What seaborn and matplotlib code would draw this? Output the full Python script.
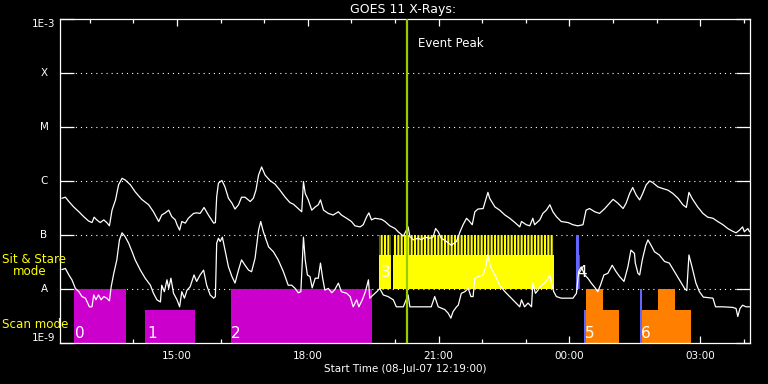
import numpy as np
import pandas as pd
import matplotlib
matplotlib.use("Agg")
import matplotlib.pyplot as plt
import seaborn as sns

# ---------------- data (hours after 00:00 of 08-Jul-07; log10 flux in W/m^2) -------------
upper_time = [12.36,12.44,12.52,12.63,12.75,12.86,12.97,13.05,13.10,13.16,13.24,13.32,13.39,13.45,13.51,13.59,13.66,13.74,13.81,13.93,
              14.04,14.19,14.35,14.46,14.58,14.65,14.73,14.81,14.88,14.96,15.00,15.06,15.11,15.19,15.26,15.38,15.45,15.53,15.62,15.72,
              15.84,15.88,15.91,15.95,16.03,16.10,16.18,16.26,16.33,16.41,16.48,16.56,16.68,16.75,16.81,16.87,16.94,17.02,17.13,17.25,
              17.36,17.48,17.59,17.67,17.78,17.86,17.90,17.94,18.01,18.09,18.17,18.24,18.29,18.36,18.47,18.58,18.70,18.77,18.89,19.00,
              19.08,19.20,19.27,19.35,19.40,19.46,19.54,19.69,19.77,19.88,20.00,20.07,20.19,20.30,20.34,20.42,20.53,20.61,20.68,20.80,
              20.87,20.93,20.99,21.06,21.18,21.29,21.41,21.49,21.56,21.64,21.71,21.77,21.83,21.90,22.02,22.09,22.13,22.17,22.29,22.40,
              22.52,22.63,22.75,22.86,22.90,23.01,23.09,23.16,23.20,23.32,23.39,23.47,23.55,23.62,23.70,23.81,23.97,24.08,24.19,24.31,
              24.38,24.46,24.58,24.69,24.81,24.92,25.00,25.11,25.23,25.30,25.38,25.45,25.53,25.61,25.68,25.76,25.84,25.91,26.03,26.14,
              26.26,26.37,26.49,26.60,26.68,26.74,26.81,26.94,27.06,27.17,27.29,27.40,27.52,27.63,27.74,27.82,27.90,27.97,28.01,28.09,
              28.13]
upper_log = [-6.32,-6.30,-6.38,-6.48,-6.57,-6.66,-6.74,-6.77,-6.67,-6.72,-6.77,-6.72,-6.77,-6.83,-6.54,-6.35,-6.07,-5.95,-5.98,-6.07,
             -6.20,-6.34,-6.44,-6.57,-6.75,-6.63,-6.59,-6.54,-6.66,-6.72,-6.81,-6.91,-6.75,-6.78,-6.69,-6.60,-6.59,-6.60,-6.49,-6.63,
             -6.78,-6.77,-6.29,-6.04,-5.99,-6.11,-6.32,-6.41,-6.52,-6.44,-6.30,-6.30,-6.38,-6.32,-6.17,-5.89,-5.74,-5.89,-5.99,-6.06,
             -6.17,-6.30,-6.40,-6.43,-6.51,-6.57,-6.01,-6.23,-6.35,-6.54,-6.48,-6.44,-6.35,-6.54,-6.60,-6.63,-6.57,-6.63,-6.69,-6.75,
             -6.83,-6.85,-6.81,-6.66,-6.59,-6.72,-6.69,-6.71,-6.75,-6.83,-6.88,-6.94,-7.02,-6.85,-7.03,-7.09,-7.06,-7.09,-7.04,-7.06,
             -7.04,-6.88,-6.94,-7.06,-7.12,-7.19,-7.12,-6.94,-6.81,-6.69,-6.75,-6.81,-6.57,-6.52,-6.51,-6.32,-6.21,-6.32,-6.48,-6.54,
             -6.63,-6.69,-6.77,-6.85,-6.75,-6.81,-6.83,-6.69,-6.81,-6.72,-6.60,-6.54,-6.44,-6.57,-6.66,-6.75,-6.77,-6.81,-6.83,-6.81,
             -6.54,-6.51,-6.57,-6.60,-6.51,-6.41,-6.34,-6.41,-6.51,-6.41,-6.23,-6.12,-6.26,-6.35,-6.23,-6.07,-6.00,-6.03,-6.11,-6.14,
             -6.17,-6.23,-6.32,-6.44,-6.49,-6.21,-6.32,-6.48,-6.60,-6.67,-6.69,-6.75,-6.81,-6.88,-6.93,-6.96,-6.91,-6.85,-6.94,-6.88,
             -6.94]

lower_time = [12.36,12.44,12.52,12.59,12.67,12.75,12.82,12.90,12.99,13.05,13.09,13.14,13.20,13.26,13.32,13.39,13.45,13.49,13.55,13.62,
              13.68,13.74,13.81,13.89,13.97,14.04,14.16,14.27,14.39,14.46,14.54,14.62,14.65,14.71,14.77,14.81,14.86,14.92,15.00,15.06,
              15.11,15.17,15.23,15.30,15.39,15.45,15.53,15.61,15.68,15.76,15.84,15.88,15.91,15.95,15.99,16.04,16.10,16.18,16.26,16.33,
              16.41,16.48,16.56,16.64,16.71,16.79,16.87,16.92,16.98,17.10,17.21,17.32,17.44,17.55,17.63,17.71,17.78,17.84,17.90,17.94,
              17.99,18.05,18.10,18.17,18.24,18.29,18.34,18.39,18.47,18.55,18.62,18.70,18.77,18.89,18.97,19.04,19.12,19.17,19.25,19.32,
              19.39,19.42,19.50,19.58,19.65,19.73,19.84,19.96,20.03,20.19,20.30,20.34,20.83,20.91,20.99,21.14,21.22,21.28,21.33,21.41,
              21.45,21.52,21.60,21.68,21.74,21.79,21.83,21.90,22.02,22.08,22.13,22.19,22.29,22.40,22.52,22.63,22.75,22.86,22.90,22.97,
              23.05,23.13,23.16,23.22,23.28,23.35,23.43,23.51,23.55,23.58,23.64,23.70,23.81,24.08,24.16,24.21,24.27,24.35,24.42,24.50,
              24.59,24.65,24.71,24.79,24.88,24.98,25.07,25.15,25.25,25.34,25.41,25.49,25.51,25.57,25.61,25.67,25.75,25.80,25.87,25.95,
              26.06,26.18,26.29,26.41,26.52,26.64,26.69,26.74,26.81,26.90,26.98,27.07,27.29,27.35,27.52,27.74,27.82,27.86,27.91,27.97,
              28.05,28.13]
lower_log = [-7.64,-7.62,-7.74,-7.83,-7.99,-8.05,-8.14,-8.17,-8.33,-8.33,-8.11,-8.20,-8.11,-8.20,-8.14,-8.17,-8.22,-7.96,-7.71,-7.46,
             -7.09,-6.96,-7.03,-7.15,-7.31,-7.46,-7.65,-7.80,-7.93,-8.08,-8.20,-8.24,-7.93,-8.05,-7.83,-7.99,-7.80,-8.08,-8.20,-8.33,
             -8.05,-8.17,-8.02,-7.96,-7.74,-7.86,-7.74,-7.65,-7.93,-8.11,-8.17,-8.14,-7.15,-7.06,-7.12,-7.04,-7.28,-7.59,-7.77,-7.89,
             -7.65,-7.46,-7.56,-7.65,-7.68,-7.43,-6.91,-6.75,-6.94,-7.22,-7.31,-7.46,-7.68,-7.93,-7.93,-7.99,-8.07,-8.05,-7.04,-7.46,
             -7.74,-7.77,-7.98,-7.80,-7.80,-7.52,-7.80,-8.02,-7.99,-8.07,-8.01,-7.89,-8.05,-8.08,-8.14,-8.33,-8.20,-8.33,-8.20,-8.05,
             -7.83,-8.17,-8.11,-8.05,-7.99,-8.11,-8.14,-8.20,-8.33,-8.33,-8.11,-8.33,-8.33,-8.14,-8.33,-8.38,-8.45,-8.54,-8.42,-8.33,
             -8.30,-8.08,-8.05,-7.99,-8.14,-8.14,-7.80,-7.77,-7.74,-7.59,-7.37,-7.59,-7.74,-7.93,-8.05,-8.14,-8.24,-8.33,-8.20,-8.33,
             -8.26,-8.33,-7.89,-8.08,-8.02,-7.93,-7.89,-7.80,-7.74,-7.86,-8.05,-8.14,-8.17,-8.17,-8.08,-7.68,-7.59,-7.74,-7.80,-7.89,
             -7.98,-8.05,-7.93,-7.74,-7.71,-7.56,-7.68,-7.77,-7.86,-7.59,-7.28,-7.34,-7.52,-7.71,-7.74,-7.46,-7.19,-7.09,-7.19,-7.31,
             -7.37,-7.49,-7.52,-7.68,-7.83,-7.99,-8.03,-7.37,-7.59,-7.89,-8.05,-8.15,-8.17,-8.33,-8.33,-8.34,-8.36,-8.51,-8.36,-8.30,
             -8.33,-8.33]

# observing-mode blocks: (start hour, end hour, bottom flux, top flux)
scan_magenta = [(12.63, 13.82, 1e-9, 1e-8), (14.26, 15.42, 1e-9, 4.1e-9), (16.23, 19.48, 1e-9, 1e-8),
                (24.20, 24.25, 1e-8, 4.2e-8)]
stare_solid = [(19.64, 19.90, 1e-8, 4.2e-8), (19.95, 23.64, 1e-8, 4.2e-8)]
stare_hatched = [(19.64, 19.90, 4.2e-8, 1e-7), (19.95, 23.64, 4.2e-8, 1e-7)]
scan_orange = [(24.38, 24.77, 1e-9, 1e-8), (24.77, 25.13, 1e-9, 4.1e-9), (25.67, 26.03, 1e-9, 4.1e-9),
               (26.03, 26.41, 1e-9, 1e-8), (26.41, 26.78, 1e-9, 4.1e-9)]
blue_marks = [(24.15, 24.21, 1e-8, 1e-7), (24.33, 24.38, 1e-9, 4.1e-9), (25.61, 25.67, 1e-9, 1e-8)]

block_labels = ["0", "1", "2", "3", "4", "5", "6"]
block_label_time = [12.65, 14.32, 16.23, 19.68, 24.17, 24.35, 25.63]
block_label_flux = [1.24e-9, 1.24e-9, 1.24e-9, 1.66e-8, 1.66e-8, 1.24e-9, 1.24e-9]

event_peak = 20.27
t_start, t_end = 12 + 19 / 60, 28.14

level_values = [1e-9, 1e-8, 1e-7, 1e-6, 1e-5, 1e-4, 1e-3]
level_labels = ["1E-9", "A", "B", "C", "M", "X", "1E-3"]
grid_levels = [1e-8, 1e-7, 1e-6, 1e-5, 1e-4]
major_hours = [15, 18, 21, 24, 27]
major_labels = ["15:00", "18:00", "21:00", "00:00", "03:00"]
minor_hours = [13, 14, 16, 17, 19, 20, 22, 23, 25, 26, 28]

# ---------------- style ----------------
sns.set_style("ticks")
plt.rcParams["font.family"] = ["DejaVu Sans"]
plt.rcParams["hatch.color"] = "#FFFF00"
plt.rcParams["hatch.linewidth"] = 1.5

fig = plt.figure(figsize=(7.68, 3.84), dpi=100, facecolor="black")
ax = fig.add_axes([60 / 768, 1 - 343 / 384, 690 / 768, 324 / 384])
ax.set_facecolor("black")
ax.set_yscale("log")
ax.set_ylim(1e-9, 1e-3)
ax.set_xlim(t_start, t_end)

for lev in grid_levels:
    ax.axhline(lev, color="white", lw=0.8, ls=(0, (1, 3.6)), zorder=1)

def draw_blocks(blocks, color, **kw):
    for s, e, b, t in blocks:
        ax.bar(s, t - b, width=e - s, bottom=b, align="edge", color=color,
               linewidth=0, zorder=2, **kw)

draw_blocks(scan_magenta, "#CC00CC")
draw_blocks(stare_solid, "#FFFF00")
draw_blocks(stare_hatched, "black", edgecolor="#FFFF00", hatch="|||||")
draw_blocks(scan_orange, "#FF8000")
draw_blocks(blue_marks, "#6464FF")

df_up = pd.DataFrame({"time": upper_time, "flux": 10 ** np.array(upper_log)})
df_lo = pd.DataFrame({"time": lower_time, "flux": 10 ** np.array(lower_log)})
sns.lineplot(data=df_up, x="time", y="flux", ax=ax, color="white", lw=0.9,
             estimator=None, sort=False, zorder=4)
sns.lineplot(data=df_lo, x="time", y="flux", ax=ax, color="white", lw=0.9,
             estimator=None, sort=False, zorder=4)

for lab, t, f in zip(block_labels, block_label_time, block_label_flux):
    ax.text(t, f, lab, color="white", fontsize=11, ha="left", va="baseline", zorder=6)

ax.axvline(event_peak, color="#99CC00", lw=1.6, zorder=5)
ax.annotate("Event Peak", xy=(event_peak, 1e-3), xytext=(8.2, -20.5), textcoords="offset points",
            color="white", fontsize=8.5, ha="left", va="baseline")

# axes, ticks
for sp in ax.spines.values():
    sp.set_color("white")
    sp.set_linewidth(0.9)
ax.set_yticks(level_values)
ax.yaxis.set_minor_locator(matplotlib.ticker.NullLocator())
ax.set_yticklabels([])
ax.tick_params(axis="y", which="major", direction="in", length=10, width=0.9, color="white",
               left=True, right=True, labelleft=False)
ax.set_xticks(major_hours)
ax.set_xticklabels(major_labels)
ax.set_xticks(minor_hours, minor=True)
ax.tick_params(axis="x", which="both", direction="in", top=True, bottom=True, color="white",
               labelcolor="white", labelsize=7.5, width=0.9, pad=6)
ax.tick_params(axis="x", which="major", length=5)
ax.tick_params(axis="x", which="minor", length=3)
ax.set_xlabel("")
ax.set_ylabel("")

ytrans = matplotlib.transforms.blended_transform_factory(ax.transAxes, ax.transData)
lab_x = (44 - 60) / 690
for v, lab in zip(level_values, level_labels):
    va = "top" if lab == "1E-3" else ("bottom" if lab == "1E-9" else "center")
    ax.text(lab_x, v, lab, transform=ytrans, color="white", fontsize=7.5, ha="center", va=va)

fig.text(403 / 768, 1 - 9.5 / 384, "GOES 11 X-Rays:", color="white", fontsize=9, ha="center", va="center")
fig.text(405 / 768, 1 - 369 / 384, "Start Time (08-Jul-07 12:19:00)", color="white", fontsize=7.5,
         ha="center", va="center")
fig.text(2 / 768, 1 - 263 / 384, "Sit & Stare", color="#FFFF00", fontsize=8.6, ha="left", va="baseline")
fig.text(13 / 768, 1 - 275 / 384, "mode", color="#FFFF00", fontsize=8.6, ha="left", va="baseline")
fig.text(2 / 768, 1 - 328 / 384, "Scan mode", color="#FFFF00", fontsize=8.6, ha="left", va="baseline")

fig.savefig("out.png", dpi=100, facecolor="black")
